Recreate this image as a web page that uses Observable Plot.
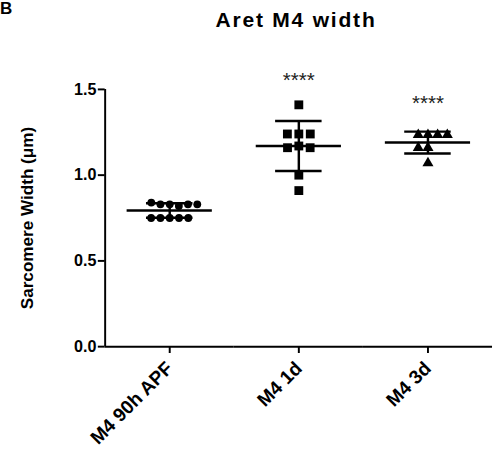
<!DOCTYPE html>
<html><head><meta charset="utf-8">
<script src="https://cdn.jsdelivr.net/npm/d3@7"></script>
<script src="https://cdn.jsdelivr.net/npm/@observablehq/plot@0.6"></script>
<style>
html,body{margin:0;padding:0;overflow:hidden;background:#fff;width:493px;height:458px}
#head{position:relative;height:40px;width:493px;font-family:"Liberation Sans",Arial,sans-serif;color:#000}
#title{position:absolute;left:296px;top:8px;transform:translateX(-50%);white-space:nowrap;font-weight:bold;font-size:21px;line-height:24px;letter-spacing:1.8px}
#panel{position:absolute;left:0px;top:-1px;font-weight:bold;font-size:17px;line-height:20px}
</style></head>
<body>
<div id="head"><span id="panel">B</span><span id="title">Aret M4 width</span></div>
<div id="chart"></div>
<script>
// categories
const groups = ["M4 90h APF", "M4 1d", "M4 3d"];
// series values (sarcomere width, µm)
const apf90h = [0.83, 0.83, 0.82, 0.83, 0.84, 0.83, 0.75, 0.75, 0.75, 0.75, 0.75];
const m4_1d  = [1.41, 1.24, 1.24, 1.24, 1.17, 1.16, 1.16, 1.00, 0.91];
const m4_3d  = [1.235, 1.235, 1.235, 1.235, 1.16, 1.16, 1.07];
// y tick values
const yTicks = [0, 0.5, 1.0, 1.5];
// significance annotations
const sigLabels = ["", "****", "****"];
const sigY = [null, 1.55, 1.42];

const series = [apf90h, m4_1d, m4_3d];
const pts = series.map((vals, i) => vals.map(v => ({group: groups[i], value: v})));
const stats = series.map((vals, i) => {
  const m = d3.mean(vals), s = d3.deviation(vals);
  return {group: groups[i], mean: m, lo: m - s, hi: m + s};
});
const sig = groups.map((g, i) => ({group: g, label: sigLabels[i], y: sigY[i]})).filter(d => d.label);

const font = '"Liberation Sans", Arial, sans-serif';
const chart = Plot.plot({
  width: 504, height: 418,
  marginLeft: 106, marginRight: 0, marginTop: 50, marginBottom: 105,
  style: {fontFamily: font, fontSize: "16px", color: "#000", background: "#fff", overflow: "visible"},
  x: {domain: [-1, 1], axis: null},
  y: {domain: [0, 1.5]},
  fx: {domain: groups, padding: 0},
  marks: [
    Plot.ruleY([0], {strokeWidth: 2}),
    Plot.ruleX([groups[0]], {fx: d => d, x: -1, y1: 0, y2: 1.5, strokeWidth: 2}),
    Plot.axisY({ticks: yTicks, tickFormat: d3.format(".1f"), tickSize: 7, tickPadding: 2, strokeWidth: 2, fontSize: 16.5, fontWeight: "bold", label: null}),
    Plot.axisY({ticks: [], label: "Sarcomere Width (μm)", labelAnchor: "center", labelOffset: 86, labelArrow: "none", fontSize: 17.5, fontWeight: "bold"}),
    Plot.axisFx({anchor: "bottom", tickSize: 7, tickPadding: 12, tickRotate: -45, strokeWidth: 2, fontSize: 19.5, fontWeight: "bold", label: null}),
    Plot.ruleY(stats, {fx: "group", y: "mean", x1: -0.66, x2: 0.66, strokeWidth: 2.5}),
    Plot.ruleX(stats, {fx: "group", x: 0, y1: "lo", y2: "hi", strokeWidth: 2.5}),
    Plot.ruleY(stats, {fx: "group", y: "lo", x1: -0.36, x2: 0.36, strokeWidth: 2.5}),
    Plot.ruleY(stats, {fx: "group", y: "hi", x1: -0.36, x2: 0.36, strokeWidth: 2.5}),
    Plot.dot(pts[0], Plot.dodgeX({anchor: "middle", padding: 1.5}, {fx: "group", y: "value", r: 4, symbol: "circle", fill: "#000"})),
    Plot.dot(pts[1], Plot.dodgeX({anchor: "middle", padding: 1.5}, {fx: "group", y: "value", r: 5.1, symbol: "square", fill: "#000"})),
    Plot.dot(pts[2], Plot.dodgeX({anchor: "middle", padding: 1.5}, {fx: "group", y: "value", r: 4.2, symbol: "triangle", fill: "#000"})),
    Plot.text(sig, {fx: "group", x: 0, y: "y", text: "label", fontSize: 21, fill: "#222"})
  ]
});
document.getElementById("chart").appendChild(chart);
</script>
</body></html>
